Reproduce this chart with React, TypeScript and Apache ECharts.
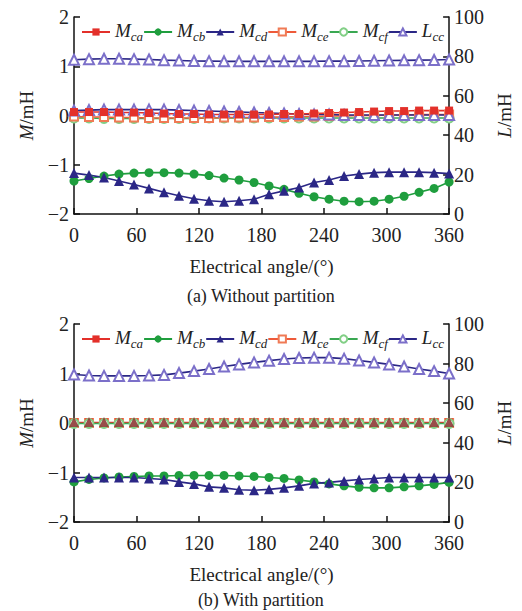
import React, { useEffect, useRef } from 'react';
import * as echarts from 'echarts';

const FONT = '"Liberation Serif", "Times New Roman", serif';

const ANGLES = [0, 14.4, 28.8, 43.2, 57.6, 72, 86.4, 100.8, 115.2, 129.6, 144, 158.4, 172.8, 187.2, 201.6, 216, 230.4, 244.8, 259.2, 273.6, 288, 302.4, 316.8, 331.2, 345.6, 360];
const X_TICKS = [0, 60, 120, 180, 240, 300, 360];
const NAMES = ['Mca', 'Mcb', 'Mcd', 'Mce', 'Mcf', 'Lcc'];

// (a) Without partition
const A_MCA = [0.07, 0.07, 0.07, 0.06, 0.06, 0.05, 0.04, 0.03, 0.03, 0.02, 0.02, 0.02, 0.02, 0.02, 0.03, 0.03, 0.04, 0.05, 0.06, 0.07, 0.08, 0.09, 0.09, 0.1, 0.1, 0.1];
const A_MCB = [-1.33, -1.28, -1.23, -1.19, -1.17, -1.16, -1.16, -1.17, -1.19, -1.22, -1.27, -1.31, -1.36, -1.43, -1.5, -1.58, -1.65, -1.7, -1.74, -1.75, -1.74, -1.7, -1.64, -1.56, -1.48, -1.35];
const A_MCD = [-1.17, -1.21, -1.26, -1.33, -1.4, -1.48, -1.56, -1.63, -1.69, -1.73, -1.75, -1.73, -1.7, -1.6, -1.53, -1.46, -1.36, -1.31, -1.23, -1.19, -1.16, -1.15, -1.15, -1.15, -1.16, -1.18];
const A_MCE = [-0.02, -0.03, -0.03, -0.04, -0.04, -0.05, -0.05, -0.05, -0.05, -0.05, -0.04, -0.04, -0.04, -0.03, -0.03, -0.02, -0.02, -0.01, -0.01, 0, 0, 0.01, 0.01, 0.02, 0.02, 0.02];
const A_MCF = [-0.05, -0.05, -0.06, -0.06, -0.06, -0.06, -0.06, -0.06, -0.06, -0.05, -0.05, -0.05, -0.05, -0.05, -0.05, -0.05, -0.05, -0.05, -0.05, -0.05, -0.05, -0.05, -0.05, -0.05, -0.05, -0.05];
const A_NEAR0 = [0.1, 0.11, 0.12, 0.12, 0.12, 0.12, 0.12, 0.11, 0.1, 0.09, 0.08, 0.07, 0.06, 0.05, 0.04, 0.03, 0.02, 0.02, 0.01, 0.01, 0.01, 0.01, 0.01, 0.01, 0.01, 0.01];
const A_LCC = [78.3, 78.6, 78.8, 78.8, 78.6, 78.4, 78.1, 77.9, 77.7, 77.6, 77.5, 77.5, 77.5, 77.5, 77.5, 77.5, 77.5, 77.6, 77.6, 77.7, 77.8, 77.9, 78.0, 78.1, 78.2, 78.4];

// (b) With partition
const B_MCA = [0.01, 0.01, 0.01, 0.01, 0.01, 0.01, 0.01, 0.01, 0.01, 0.01, 0.01, 0.01, 0.01, 0.01, 0.01, 0.01, 0.01, 0.01, 0.01, 0.01, 0.01, 0.01, 0.01, 0.01, 0.01, 0.01];
const B_MCB = [-1.19, -1.14, -1.11, -1.09, -1.08, -1.07, -1.07, -1.06, -1.06, -1.06, -1.06, -1.07, -1.08, -1.1, -1.12, -1.15, -1.19, -1.23, -1.27, -1.3, -1.31, -1.31, -1.29, -1.27, -1.24, -1.2];
const B_MCD = [-1.1, -1.1, -1.1, -1.1, -1.1, -1.12, -1.14, -1.19, -1.23, -1.29, -1.31, -1.35, -1.36, -1.34, -1.31, -1.27, -1.22, -1.2, -1.17, -1.14, -1.12, -1.1, -1.1, -1.1, -1.1, -1.1];
const B_MCE = [0, 0, 0, 0, 0, 0, 0, 0, 0, 0, 0, 0, 0, 0, 0, 0, 0, 0, 0, 0, 0, 0, 0, 0, 0, 0];
const B_MCF = [-0.01, -0.01, -0.01, -0.01, -0.01, -0.01, -0.01, -0.01, -0.01, -0.01, -0.01, -0.01, -0.01, -0.01, -0.01, -0.01, -0.01, -0.01, -0.01, -0.01, -0.01, -0.01, -0.01, -0.01, -0.01, -0.01];
const B_NEAR0 = [0.02, 0.02, 0.02, 0.02, 0.02, 0.02, 0.02, 0.02, 0.02, 0.02, 0.02, 0.02, 0.02, 0.02, 0.02, 0.02, 0.02, 0.02, 0.02, 0.02, 0.02, 0.02, 0.02, 0.02, 0.02, 0.02];
const B_LCC = [74.5, 74.0, 73.8, 73.8, 73.8, 74.0, 74.3, 75.2, 76.2, 77.3, 78.5, 79.6, 80.6, 81.5, 82.3, 82.8, 83.0, 83.0, 82.5, 81.6, 80.6, 79.6, 78.5, 77.3, 76.2, 75.0];

const RED = '#e3302a';
const GREEN = '#1f9e3e';
const NAVY = '#2b2786';

const STYLE: Record<string, any> = {
  Mca: { symbol: 'rect', symbolSize: 8, itemStyle: { color: RED }, lineStyle: { color: RED, width: 1.6 } },
  Mcb: { symbol: 'circle', symbolSize: 9, itemStyle: { color: GREEN }, lineStyle: { color: GREEN, width: 1.6 } },
  Mcd: { symbol: 'triangle', symbolSize: 10, itemStyle: { color: NAVY }, lineStyle: { color: NAVY, width: 1.6 } },
  Mce: { symbol: 'emptyRect', symbolSize: 8, itemStyle: { color: '#f07a55', borderWidth: 1.2 }, lineStyle: { color: '#ee5a3a', width: 1.6 } },
  Mcf: { symbol: 'emptyCircle', symbolSize: 9, itemStyle: { color: '#82cf86', borderWidth: 1.2 }, lineStyle: { color: '#3aa852', width: 1.6 } },
  Lcc: { symbol: 'emptyTriangle', symbolSize: 10, itemStyle: { color: '#7b6fc9', borderWidth: 1.2 }, lineStyle: { color: NAVY, width: 1.6 } },
};

const pairs = (vals: number[]) => ANGLES.map((a, i) => [a, vals[i]]);

function makeSeries(grid: number, data: Record<string, number[]>, near0: number[], order: string[], near0Style: any) {
  return order.map((n) => {
    if (n === 'NEAR0') {
      return {
        type: 'line', name: 'near0', xAxisIndex: grid, yAxisIndex: grid * 2,
        data: pairs(near0), showAllSymbol: true, symbolSize: 10,
        lineStyle: { color: NAVY, width: 1.6 }, ...near0Style,
      };
    }
    return {
      type: 'line', name: n, xAxisIndex: grid, yAxisIndex: n === 'Lcc' ? grid * 2 + 1 : grid * 2,
      data: pairs(data[n]), showAllSymbol: true, ...STYLE[n],
    };
  });
}

const axisLine = { show: true, onZero: false, lineStyle: { color: '#111', width: 1.5 } };
const axisTick = { show: true, inside: true, length: 6, lineStyle: { color: '#111', width: 1.5 } };
const labelStyle = { fontFamily: FONT, fontSize: 20, lineHeight: 18, color: '#222' };

function xAxis(grid: number) {
  return {
    type: 'value', gridIndex: grid, min: 0, max: 360, interval: 60,
    axisLine, axisTick, splitLine: { show: false },
    axisLabel: { ...labelStyle, margin: 12, customValues: X_TICKS },
    name: 'Electrical angle/(°)', nameLocation: 'middle', nameGap: 43,
    nameTextStyle: { fontFamily: FONT, fontSize: 19, color: '#222' },
  };
}

function yAxes(grid: number) {
  return [
    {
      type: 'value', gridIndex: grid, position: 'left', min: -2, max: 2, interval: 1,
      axisLine, axisTick, splitLine: { show: false },
      axisLabel: { ...labelStyle, margin: 5, formatter: (v: number) => (v < 0 ? '\u2212' + Math.abs(v) : String(v)) },
      name: '{i|M}/mH', nameLocation: 'middle', nameGap: 38,
      nameTextStyle: { fontFamily: FONT, fontSize: 19, color: '#222', rich: { i: { fontFamily: FONT, fontSize: 19, fontStyle: 'italic', color: '#222' } } },
    },
    {
      type: 'value', gridIndex: grid, position: 'right', min: 0, max: 100, interval: 20,
      axisLine, axisTick, splitLine: { show: false },
      axisLabel: { ...labelStyle, margin: 5 },
      name: '{i|L}/mH', nameLocation: 'middle', nameGap: 44,
      nameTextStyle: { fontFamily: FONT, fontSize: 19, color: '#222', rich: { i: { fontFamily: FONT, fontSize: 19, fontStyle: 'italic', color: '#222' } } },
    },
  ];
}

function legend(top: number) {
  return {
    top, left: 76, itemGap: 0, itemWidth: 28, itemHeight: 9, data: NAMES, selectedMode: false,
    formatter: (name: string) => `{m|${name[0]}}{s|${name.slice(1)}}`,
    textStyle: {
      rich: {
        m: { fontFamily: FONT, fontSize: 19, fontStyle: 'italic', color: '#222', lineHeight: 22, verticalAlign: 'top' },
        s: { fontFamily: FONT, fontSize: 13, fontStyle: 'italic', color: '#222', lineHeight: 22, verticalAlign: 'bottom' },
      },
    },
  };
}

export default function App() {
  const ref = useRef<HTMLDivElement>(null);
  useEffect(() => {
    const chart = echarts.init(ref.current!, null, { renderer: 'svg' });
    const option = {
      animation: false,
      backgroundColor: '#fff',
      grid: [
        { left: 74, right: 67, top: 17, height: 197 },
        { left: 74, right: 67, top: 324, height: 198 },
      ],
      legend: [legend(16), legend(323)],
      xAxis: [xAxis(0), xAxis(1)],
      yAxis: [...yAxes(0), ...yAxes(1)],
      series: [
        ...makeSeries(0, { Mca: A_MCA, Mcb: A_MCB, Mcd: A_MCD, Mce: A_MCE, Mcf: A_MCF, Lcc: A_LCC }, A_NEAR0,
          ['Lcc', 'Mcf', 'Mce', 'NEAR0', 'Mca', 'Mcb', 'Mcd'],
          { symbol: 'emptyTriangle', itemStyle: { color: '#7b6fc9', borderWidth: 1.2 } }),
        ...makeSeries(1, { Mca: B_MCA, Mcb: B_MCB, Mcd: B_MCD, Mce: B_MCE, Mcf: B_MCF, Lcc: B_LCC }, B_NEAR0,
          ['Lcc', 'Mce', 'Mca', 'Mcf', 'NEAR0', 'Mcb', 'Mcd'],
          { symbol: 'triangle', itemStyle: { color: '#8e3a36', opacity: 0.9 }, lineStyle: { width: 0, opacity: 0 } }),
      ],
      graphic: [
        { type: 'text', left: 'center', top: 287, style: { text: '(a) Without partition', fontFamily: FONT, fontSize: 18, fill: '#222' } },
        { type: 'text', left: 'center', top: 591, style: { text: '(b) With partition', fontFamily: FONT, fontSize: 18, fill: '#222' } },
      ],
    };
    chart.setOption(option as any);
    return () => chart.dispose();
  }, []);
  return <div ref={ref} style={{ position: 'absolute', left: 0, top: 0, width: 522, height: 611, background: '#fff' }} />;
}
